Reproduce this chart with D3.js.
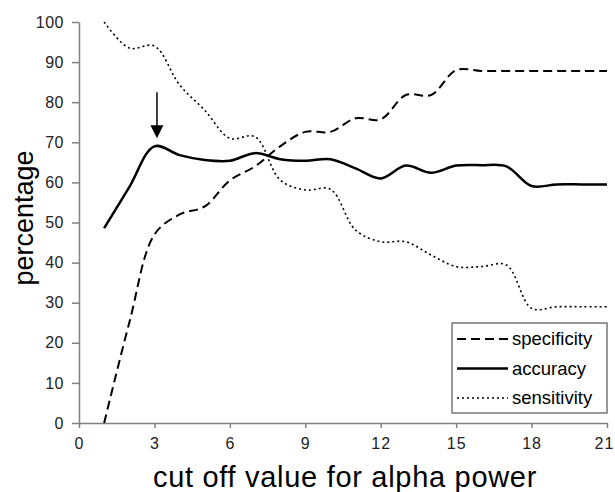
<!DOCTYPE html>
<html>
<head>
<meta charset="utf-8">
<script src="https://cdn.jsdelivr.net/npm/d3@7"></script>
<style>
  body { margin: 0; background: #fff; }
  svg { font-family: "Liberation Sans", Arial, sans-serif; }
  .axis path, .axis line { stroke: #808080; stroke-width: 1.5; }
  .axis text { fill: #222; font-size: 16px; }
</style>
</head>
<body>
<div id="chart"></div>
<script>
/*
 * specificity / accuracy / sensitivity vs cut off value
 */

var cutoff = d3.range(1, 22);
var specificity = [0, 25, 47, 52, 54, 60.5, 64, 69, 72.6, 72.6, 76, 75.7, 81.8, 81.8, 88, 87.8, 87.8, 87.8, 87.8, 87.8, 87.8];
var accuracy = [48.6, 58.8, 69, 66.8, 65.6, 65.4, 67.3, 65.8, 65.4, 65.8, 63.5, 61, 64.2, 62.4, 64.2, 64.3, 64, 59.1, 59.5, 59.5, 59.5];
var sensitivity = [100, 93.5, 94, 84.3, 78, 71, 71.4, 60.6, 58.1, 58.3, 48.1, 45.2, 45.2, 41.9, 39, 39, 39.4, 28.6, 29, 29, 29];
var xTicks = [0, 3, 6, 9, 12, 15, 18, 21];
var yTicks = [0, 10, 20, 30, 40, 50, 60, 70, 80, 90, 100];
var seriesNames = ["specificity", "accuracy", "sensitivity"];
var peak = {x: 3.1, from: 82.5, to: 71};

var width = 615;
var height = 492;

var svg = d3.select('#chart')
    .append('svg')
    .attr('width', width)
    .attr('height', height);

var x = d3.scaleLinear().domain([0, 21]).range([79, 607]);
var y = d3.scaleLinear().domain([0, 100]).range([423, 22]);

// axes
var xAxis = svg.append('g')
    .attr('class', 'axis')
    .attr('transform', 'translate(0,423)')
    .call(d3.axisBottom(x).tickValues(xTicks).tickSizeInner(5).tickSizeOuter(0).tickPadding(10));
xAxis.selectAll('text').style('letter-spacing', '1px');
// last label sits on the right edge, nudge it in a little
xAxis.selectAll('text').filter(function (d) { return d === 21; }).attr('dx', -3);

svg.append('g')
    .attr('class', 'axis')
    .attr('transform', 'translate(79,0)')
    .call(d3.axisLeft(y).tickValues(yTicks).tickSizeInner(7).tickSizeOuter(0).tickPadding(8))
    .selectAll('text').style('letter-spacing', '0.5px');

// axis titles
svg.append('text')
    .attr('x', 345)
    .attr('y', 487)
    .attr('text-anchor', 'middle')
    .style('font-size', '29px')
    .style('letter-spacing', '0.7px')
    .text('cut off value for alpha power');

svg.append('text')
    .attr('transform', 'translate(33,218) rotate(-90)')
    .attr('text-anchor', 'middle')
    .style('font-size', '27px')
    .text('percentage');

var styles = {
    specificity: {dash: '9,5', w: 2},
    accuracy: {dash: null, w: 2.5},
    sensitivity: {dash: '2,3', w: 1.6}
};
var values = {specificity: specificity, accuracy: accuracy, sensitivity: sensitivity};

var line = d3.line()
    .x(function (d) { return x(d[0]); })
    .y(function (d) { return y(d[1]); })
    .curve(d3.curveCatmullRom.alpha(0.5));

seriesNames.forEach(function (name) {
    var pts = cutoff.map(function (c, i) { return [c, values[name][i]]; });
    svg.append('path')
        .datum(pts)
        .attr('d', line)
        .attr('fill', 'none')
        .attr('stroke', '#000')
        .attr('stroke-width', styles[name].w)
        .attr('stroke-dasharray', styles[name].dash);
});

// arrow marking the peak
var ax = x(peak.x);
svg.append('line')
    .attr('x1', ax).attr('x2', ax)
    .attr('y1', y(peak.from)).attr('y2', y(peak.to) - 10)
    .attr('stroke', '#000')
    .attr('stroke-width', 1.5);
svg.append('path')
    .attr('d', 'M' + (ax - 6.5) + ',' + (y(peak.to) - 13) + 'L' + (ax + 6.5) + ',' + (y(peak.to) - 13) + 'L' + ax + ',' + y(peak.to) + 'Z')
    .attr('fill', '#000');

// legend
var legend = svg.append('g').attr('transform', 'translate(452,323)');
legend.append('rect')
    .attr('width', 155)
    .attr('height', 90)
    .attr('fill', '#fff')
    .attr('stroke', '#555')
    .attr('stroke-width', 1.2);

var item = legend.selectAll('.item')
    .data(seriesNames)
    .enter()
    .append('g')
    .attr('transform', function (d, i) { return 'translate(0,' + (16 + i * 29.5) + ')'; });

item.append('line')
    .attr('x1', 5).attr('x2', 56)
    .attr('stroke', '#000')
    .attr('stroke-width', function (d) { return styles[d].w; })
    .attr('stroke-dasharray', function (d) { return styles[d].dash; });

item.append('text')
    .attr('x', 60)
    .attr('y', 6)
    .style('font-size', '18.5px')
    .text(function (d) { return d; });
</script>
</body>
</html>
